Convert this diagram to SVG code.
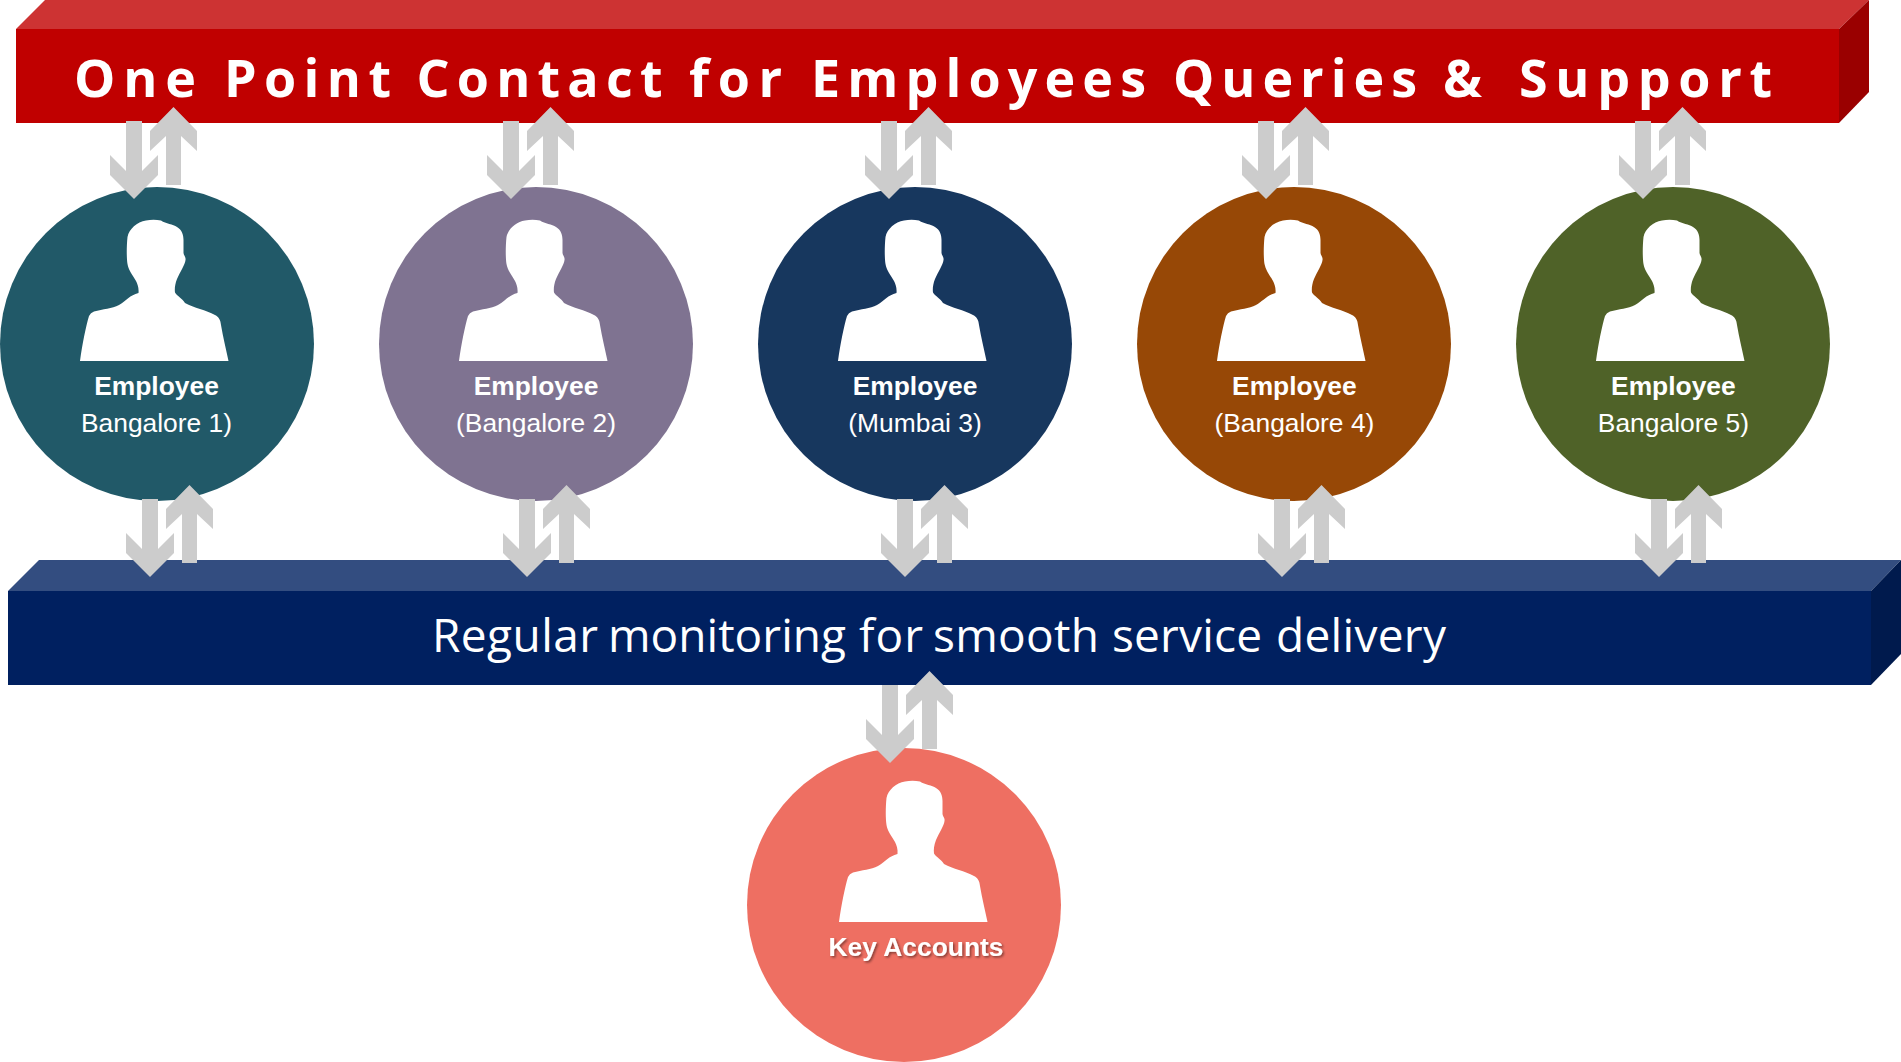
<svg xmlns="http://www.w3.org/2000/svg" xmlns:xlink="http://www.w3.org/1999/xlink" width="1901" height="1062" viewBox="0 0 1901 1062">
<style>
.t{font-family:"Liberation Sans",Arial,sans-serif;font-size:26.4px;fill:#fff;text-anchor:middle}
.b{font-weight:700}
.arrow{fill:#ccc}
.person{fill:#fff}
</style>
<defs>
<filter id="sh" x="-10%" y="-30%" width="120%" height="170%"><feDropShadow dx="1.5" dy="1.5" stdDeviation="1" flood-color="#000" flood-opacity=".45"/></filter>
<path id="pair" d="M126 121H142V171L158 155V175L134 199L110 175V155L126 171Z M173.500 107L197 131V151L181 136V185H166V136L150 151V131Z"/>
<path id="person" d="M80 361C82.500 343 86 326 89 316Q90.500 312.500 94 311.500C103 309 112 308.500 119 305C126 301 130 295 138.500 293C139 288 137.500 284 136 281C132 274 128.500 270 127.500 264C126.500 258 126.500 246 127.500 237C129 229 137 222 146 220.500C151 219.500 156 219.500 161 220.500C166 224 173 224 177 227C182 230 183.500 235 183.500 240L183.500 253C184 256 186 257 185.500 260C185 265 180 272 177 279C175 284 174.500 289 175 292.500C177 296 182 298 185 303C194 308 206 310 215 315C219 317 220.500 320 221 325C223 337 226 349 228.500 361Z"/>
</defs>
<g id="top-bar">
<path fill="#cd3333" d="M16 29L45 0H1869L1839 29Z"/>
<path fill="#9a0000" d="M1839 29L1869 0V92L1839 123Z"/>
<rect fill="#c00000" x="16" y="29" width="1823" height="94"/>
<text y="97" style="font-family:'Open Sans',sans-serif;font-weight:700;font-size:52px;fill:#fff"><tspan x="74" textLength="122" lengthAdjust="spacing">One</tspan> <tspan x="224" textLength="167" lengthAdjust="spacing">Point</tspan> <tspan x="416.500" textLength="246" lengthAdjust="spacing">Contact</tspan> <tspan x="689" textLength="93" lengthAdjust="spacing">for</tspan> <tspan x="811" textLength="335" lengthAdjust="spacing">Employees</tspan> <tspan x="1173" textLength="244" lengthAdjust="spacing">Queries</tspan> <tspan x="1443" textLength="46" lengthAdjust="spacing">&amp;</tspan> <tspan x="1519" textLength="253" lengthAdjust="spacing">Support</tspan></text>
</g>
<g id="bottom-bar">
<path fill="#334d80" d="M8 591L39 560H1901L1871 591Z"/>
<path fill="#001a4d" d="M1871 591L1901 560V654L1871 685Z"/>
<rect fill="#002060" x="8" y="591" width="1863" height="94"/>
<text y="652" style="font-family:'Open Sans',sans-serif;font-size:46px;fill:#fff"><tspan x="432" textLength="166" lengthAdjust="spacing">Regular</tspan> <tspan x="608" textLength="238" lengthAdjust="spacing">monitoring</tspan> <tspan x="859" textLength="64" lengthAdjust="spacing">for</tspan> <tspan x="933" textLength="166" lengthAdjust="spacing">smooth</tspan> <tspan x="1112" textLength="150" lengthAdjust="spacing">service</tspan> <tspan x="1276" textLength="170" lengthAdjust="spacing">delivery</tspan></text>
</g>
<g id="employee-1"><circle cx="157" cy="344" r="157" fill="#215968"/><use href="#person" class="person"/><text class="t b" x="156.500" y="395">Employee</text><text class="t" x="156.500" y="432">Bangalore 1)</text></g>
<g id="employee-2"><circle cx="536" cy="344" r="157" fill="#7f7391"/><use href="#person" class="person" x="379"/><text class="t b" x="536" y="395">Employee</text><text class="t" x="536" y="432">(Bangalore 2)</text></g>
<g id="employee-3"><circle cx="915" cy="344" r="157" fill="#17375e"/><use href="#person" class="person" x="758"/><text class="t b" x="915" y="395">Employee</text><text class="t" x="915" y="432">(Mumbai 3)</text></g>
<g id="employee-4"><circle cx="1294" cy="344" r="157" fill="#974806"/><use href="#person" class="person" x="1137"/><text class="t b" x="1294.400" y="395">Employee</text><text class="t" x="1294.400" y="432">(Bangalore 4)</text></g>
<g id="employee-5"><circle cx="1673" cy="344" r="157" fill="#4f6228"/><use href="#person" class="person" x="1516"/><text class="t b" x="1673.400" y="395">Employee</text><text class="t" x="1673.400" y="432">Bangalore 5)</text></g>
<g id="key-accounts"><circle cx="904" cy="905" r="157" fill="#ee6f62"/><use href="#person" class="person" x="759" y="561"/><text class="t b" x="916" y="956" filter="url(#sh)">Key Accounts</text></g>
<g id="connectors" class="arrow">
<use href="#pair"/><use href="#pair" x="377"/><use href="#pair" x="755"/><use href="#pair" x="1132"/><use href="#pair" x="1509"/>
<use href="#pair" x="16" y="378"/><use href="#pair" x="393" y="378"/><use href="#pair" x="771" y="378"/><use href="#pair" x="1148" y="378"/><use href="#pair" x="1525" y="378"/>
<use href="#pair" x="756" y="564"/>
</g>
</svg>
